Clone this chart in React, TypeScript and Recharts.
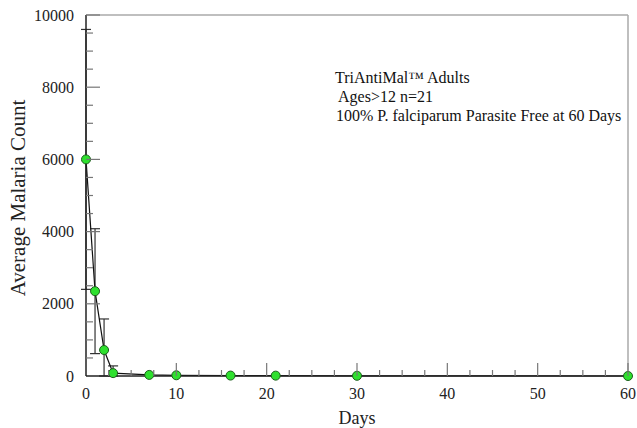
import React from 'react';
import {
  ComposedChart, Line, XAxis, YAxis, ErrorBar, ReferenceLine, Customized,
} from 'recharts';

// Days after start of treatment
const days = [0, 1, 2, 3, 7, 10, 16, 21, 30, 60];
// Average malaria count per visit
const counts = [6000, 2350, 720, 80, 30, 20, 12, 10, 6, 0];
// [lower, upper] error per visit (null = no bar drawn)
const errors: ([number, number] | null)[] = [
  [3600, 3600], [1730, 1730], [720, 860], [80, 200], null, null, null, null, null, null,
];

const xTicks = Array.from({ length: 25 }, (_, i) => i * 2.5);
const yTicks = Array.from({ length: 21 }, (_, i) => i * 500);

const notes = [
  'TriAntiMal™ Adults',
  'Ages>12 n=21',
  '100% P. falciparum Parasite Free at 60 Days',
];

const data = days.map((d, i) => ({ day: d, count: counts[i], err: errors[i] }));

const FONT = '"Liberation Serif", "Times New Roman", serif';

const XTick = (props: any) => {
  const { x, y, payload } = props;
  const major = payload.value % 10 === 0;
  return (
    <g>
      {payload.value !== 0 && (
        <line x1={x} x2={x} y1={y} y2={y - (major ? 13 : 6)} stroke="#777" strokeWidth={1.2} />
      )}
      {major && (
        <text x={x} y={y + 17} textAnchor="middle" dominantBaseline="central"
          fontFamily={FONT} fontSize={16} fill="#222">
          {payload.value}
        </text>
      )}
    </g>
  );
};

const YTick = (props: any) => {
  const { x, y, payload } = props;
  const major = payload.value % 2000 === 0;
  return (
    <g>
      {payload.value !== 0 && (
        <line x1={x} x2={x + (major ? 14 : 7)} y1={y} y2={y} stroke="#777" strokeWidth={1.2} />
      )}
      {major && (
        <text x={x - 12} y={y} textAnchor="end" dominantBaseline="central"
          fontFamily={FONT} fontSize={16} fill="#222">
          {payload.value}
        </text>
      )}
    </g>
  );
};

const Notes = () => (
  <g fontFamily={FONT} fontSize={16} fill="#111">
    <text x={335} y={77} dominantBaseline="central">{notes[0]}</text>
    <text x={338} y={96} dominantBaseline="central">{notes[1]}</text>
    <text x={336} y={115} dominantBaseline="central">{notes[2]}</text>
  </g>
);

const AxisTitles = () => (
  <g fontFamily={FONT} fill="#222">
    <text transform="translate(18, 198) rotate(-90)" textAnchor="middle" dominantBaseline="central"
      fontSize={21}>
      Average Malaria Count
    </text>
    <text x={357} y={418} textAnchor="middle" dominantBaseline="central" fontSize={18}>Days</text>
  </g>
);

export default function App() {
  return (
    <div style={{ position: 'absolute', left: 0, top: 0, background: '#fff' }}>
      <ComposedChart width={637} height={428} data={data}
        margin={{ top: 15, right: 9, bottom: 0, left: 0 }}>
        <ReferenceLine y={10000} stroke="#aaa" strokeWidth={1.5} />
        <ReferenceLine x={60} stroke="#aaa" strokeWidth={1.5} />
        <XAxis dataKey="day" type="number" domain={[0, 60]} ticks={xTicks} interval={0}
          height={52} tickSize={0} tickMargin={0} tickLine={false}
          axisLine={{ stroke: '#222', strokeWidth: 1.5 }} tick={<XTick />} />
        <YAxis type="number" domain={[0, 10000]} ticks={yTicks} interval={0}
          width={86} tickSize={0} tickMargin={0} tickLine={false}
          axisLine={{ stroke: '#222', strokeWidth: 1.5 }} tick={<YTick />} />
        <Line dataKey="count" type="linear" stroke="#111" strokeWidth={1.2}
          isAnimationActive={false}
          dot={{ r: 4.5, fill: '#2ee02e', stroke: '#1d5e1d', strokeWidth: 1 }}>
          <ErrorBar dataKey="err" direction="y" width={5} stroke="#333" strokeWidth={1.2}
            isAnimationActive={false} />
        </Line>
        <Customized component={Notes} />
        <Customized component={AxisTitles} />
      </ComposedChart>
    </div>
  );
}
